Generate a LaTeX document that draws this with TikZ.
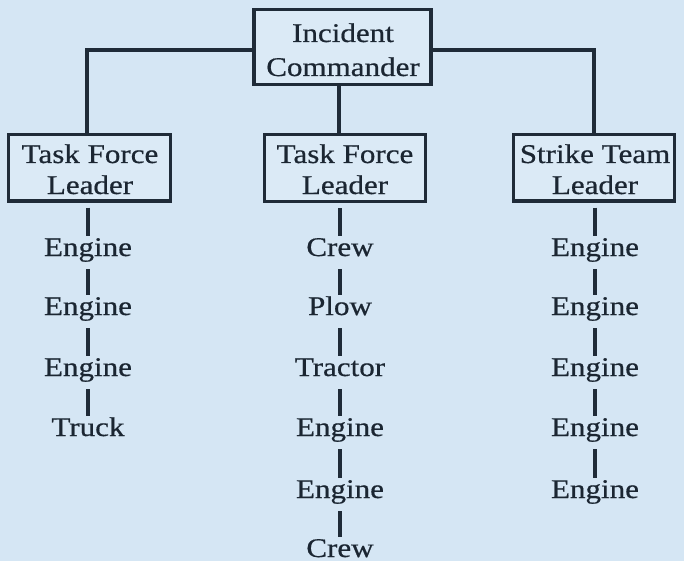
\documentclass[tikz,border=0pt]{standalone}
\usepackage{fontspec}
\setmainfont{Liberation Serif}[FakeStretch=1.15,FakeBold=0.6]
\definecolor{bgblue}{HTML}{D5E6F4}
\definecolor{boxfill}{HTML}{DBEAF6}
\definecolor{inkline}{HTML}{1F2B38}
\definecolor{inktext}{HTML}{1B2632}
\begin{document}
\begin{tikzpicture}[x=1pt,y=-1pt,
  every node/.style={font=\fontsize{27}{32}\selectfont, text=inktext},
  boxnode/.style={draw=inkline, line width=3.4pt, fill=boxfill, inner sep=0pt},
  lbl/.style={anchor=base, inner sep=0pt},
  item/.style={anchor=base, inner sep=0pt, text height=20pt, text depth=13pt},
  conn/.style={draw=inkline, line width=3.2pt}]
\fill[bgblue] (0,0) rectangle (684,561);
\useasboundingbox (0,0) rectangle (684,561);

% boxes
\node[boxnode, minimum width=177pt, minimum height=75pt] (ic) at (342.5,47) {};
\node[lbl] (ict1) at (343,42) {Incident};
\node[lbl] (ict2) at (343,76) {Commander};

\node[boxnode, minimum width=162pt, minimum height=66.5pt] (tf1) at (89.5,167.75) {};
\node[lbl] (tf1a) at (90,163) {Task Force};
\node[lbl] (tf1b) at (90,194) {Leader};

\node[boxnode, minimum width=161pt, minimum height=67pt] (tf2) at (345,168) {};
\node[lbl] (tf2a) at (345,163) {Task Force};
\node[lbl] (tf2b) at (345,194) {Leader};

\node[boxnode, minimum width=161pt, minimum height=66.5pt] (st) at (594,167.75) {};
\node[lbl] (sta) at (595,163) {Strike Team};
\node[lbl] (stb) at (595,194) {Leader};

% top connectors
\draw[conn] ([yshift=-3pt]ic.west) -| ([xshift=-2.5pt]tf1.north);
\draw[conn] ([xshift=-3.5pt]ic.south) -- ([xshift=-3.5pt]ic.south |- tf2.north);
\draw[conn] ([yshift=-3pt]ic.east) -| (st.north);

% left column
\node[item] (l1) at (88,256) {Engine};
\node[item] (l2) at (88,315) {Engine};
\node[item] (l3) at (88,376) {Engine};
\node[item] (l4) at (88,436) {Truck};
\draw[conn, shorten <=5pt] (tf1.south -| l1) -- (l1.north);
\draw[conn] (l1.south) -- (l2.north);
\draw[conn] (l2.south) -- (l3.north);
\draw[conn] (l3.south) -- (l4.north);

% middle column
\node[item] (m1) at (340,256) {Crew};
\node[item] (m2) at (340,315) {Plow};
\node[item] (m3) at (340,376) {Tractor};
\node[item] (m4) at (340,436) {Engine};
\node[item] (m5) at (340,498) {Engine};
\node[item] (m6) at (340,557) {Crew};
\draw[conn, shorten <=5pt] (tf2.south -| m1) -- (m1.north);
\draw[conn] (m1.south) -- (m2.north);
\draw[conn] (m2.south) -- (m3.north);
\draw[conn] (m3.south) -- (m4.north);
\draw[conn] (m4.south) -- (m5.north);
\draw[conn] (m5.south) -- (m6.north);

% right column
\node[item] (r1) at (595,256) {Engine};
\node[item] (r2) at (595,315) {Engine};
\node[item] (r3) at (595,376) {Engine};
\node[item] (r4) at (595,436) {Engine};
\node[item] (r5) at (595,498) {Engine};
\draw[conn, shorten <=5pt] (st.south -| r1) -- (r1.north);
\draw[conn] (r1.south) -- (r2.north);
\draw[conn] (r2.south) -- (r3.north);
\draw[conn] (r3.south) -- (r4.north);
\draw[conn] (r4.south) -- (r5.north);
\end{tikzpicture}
\end{document}
